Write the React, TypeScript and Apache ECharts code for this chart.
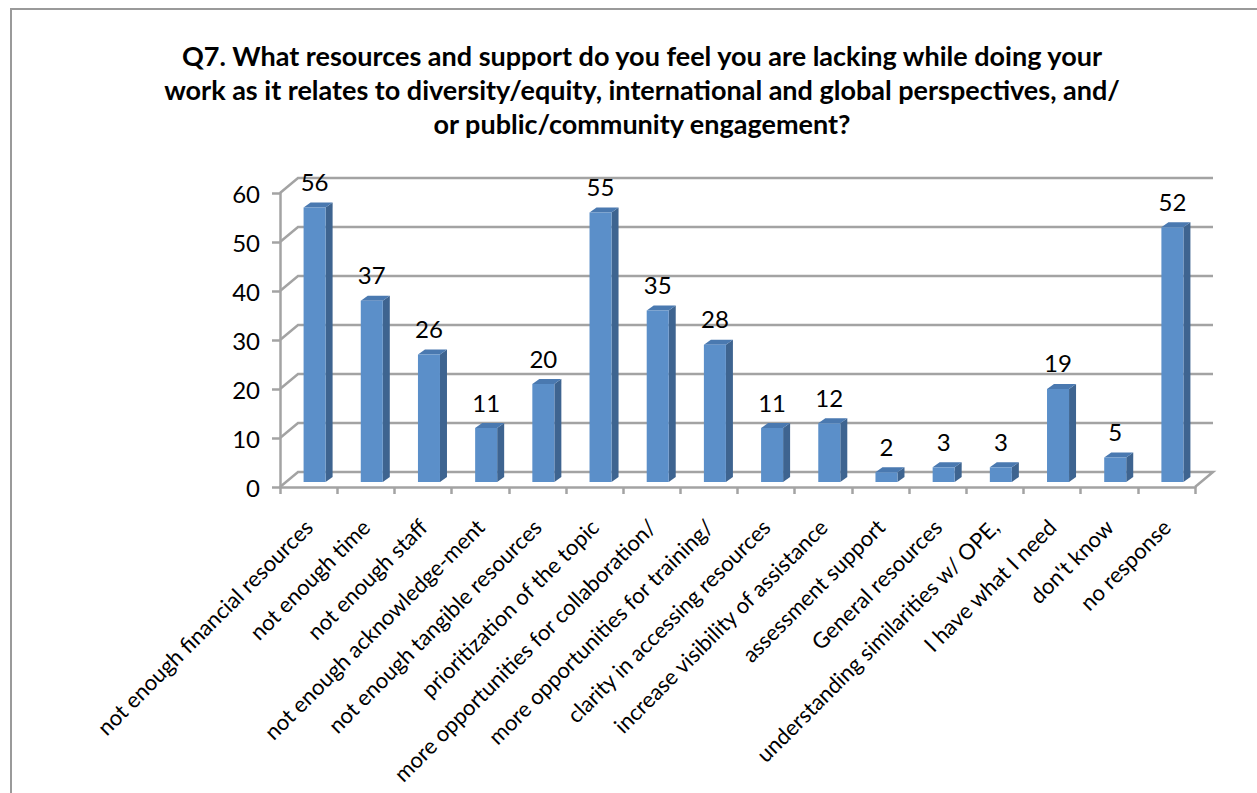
import React, { useEffect, useRef } from "react";
import * as echarts from "echarts";

const titleText =
  "Q7. What resources and support do you feel you are lacking while doing your\nwork as it relates to diversity/equity, international and global perspectives, and/\nor public/community engagement?";

const categories = [
  "not enough financial resources",
  "not enough time",
  "not enough staff",
  "not enough acknowledge-ment",
  "not enough tangible resources",
  "prioritization of the topic",
  "more opportunities for collaboration/",
  "more opportunities for training/",
  "clarity in accessing resources",
  "increase visibility of assistance",
  "assessment support",
  "General resources",
  "understanding similarities w/ OPE,",
  "I have what I need",
  "don't know",
  "no response",
];

const values = [56, 37, 26, 11, 20, 55, 35, 28, 11, 12, 2, 3, 3, 19, 5, 52];

const yTicks = [0, 10, 20, 30, 40, 50, 60];

const GRID_COLOR = "#a3a3a3";
const WALL_DX = 18;
const WALL_DY = -15;
const BAR_OFF_X = 6;
const BAR_OFF_Y = -5;
const BAR_DX = 7;
const BAR_DY = -5;

export default function App() {
  const ref = useRef<HTMLDivElement>(null);
  useEffect(() => {
    const chart = echarts.init(ref.current as HTMLDivElement, null, { renderer: "svg" });
    const option: any = {
      animation: false,
      backgroundColor: "#ffffff",
      textStyle: { fontFamily: "Lato" },
      graphic: [
        {
          type: "rect",
          shape: { x: 11, y: 9, width: 1400, height: 1000 },
          style: { fill: "none", stroke: "#9a9a9a", lineWidth: 2 },
          silent: true,
        },
        {
          type: "text",
          x: 642,
          y: 38,
          style: {
            text: titleText,
            align: "center",
            verticalAlign: "top",
            fontFamily: "Lato",
            fontWeight: "bold",
            fontSize: 27,
            lineHeight: 34,
            fill: "#000",
          },
        },
      ],
      grid: {
        left: 280,
        right: 62,
        top: 193,
        bottom: 306,
        containLabel: false,
        outerBoundsMode: "none",
      },
      xAxis: {
        type: "category",
        data: categories,
        axisLine: { show: true, lineStyle: { color: GRID_COLOR, width: 2.5 } },
        axisTick: { show: true, length: 7, interval: 0, lineStyle: { color: GRID_COLOR, width: 2.5 } },
        axisLabel: {
          interval: 0,
          rotate: 45,
          margin: 36,
          fontSize: 22,
          fontFamily: "Lato",
          color: "#000",
        },
        splitLine: { show: false },
      },
      yAxis: {
        type: "value",
        min: 0,
        max: 60,
        interval: 10,
        axisLine: { show: true, lineStyle: { color: GRID_COLOR, width: 2.5 } },
        axisTick: { show: true, length: 8, lineStyle: { color: GRID_COLOR, width: 2.5 } },
        axisLabel: { margin: 20, fontSize: 24, fontFamily: "Lato", color: "#000" },
        splitLine: { show: false },
      },
      series: [
        {
          type: "custom",
          clip: false,
          silent: true,
          z: 1,
          data: yTicks.map((t) => [0, t]),
          renderItem: (params: any, api: any) => {
            const cs = params.coordSys;
            const v = api.value(1);
            const y = api.coord([0, v])[1];
            const l = cs.x;
            const r = cs.x + cs.width;
            const pts: number[][] = [
              [l, y],
              [l + WALL_DX, y + WALL_DY],
              [r + WALL_DX, y + WALL_DY],
            ];
            if (v === 0) pts.push([r, y]);
            return {
              type: "polyline",
              shape: { points: pts },
              style: { stroke: GRID_COLOR, lineWidth: 2.5, fill: "none" },
            };
          },
        },
        {
          type: "custom",
          clip: false,
          z: 3,
          data: values.map((v, i) => [i, v]),
          renderItem: (params: any, api: any) => {
            const i = api.value(0);
            const v = api.value(1);
            const top = api.coord([i, v]);
            const base = api.coord([i, 0]);
            const bw = api.size([1, 0])[0] * 0.385;
            const x0 = top[0] + BAR_OFF_X - bw / 2;
            const x1 = x0 + bw;
            const yt = top[1] + BAR_OFF_Y;
            const yb = base[1] + BAR_OFF_Y;
            return {
              type: "group",
              children: [
                {
                  type: "polygon",
                  shape: {
                    points: [
                      [x1, yt],
                      [x1 + BAR_DX, yt + BAR_DY],
                      [x1 + BAR_DX, yb + BAR_DY],
                      [x1, yb],
                    ],
                  },
                  style: { fill: "#3e6490" },
                },
                {
                  type: "polygon",
                  shape: {
                    points: [
                      [x0, yt],
                      [x0 + BAR_DX, yt + BAR_DY],
                      [x1 + BAR_DX, yt + BAR_DY],
                      [x1, yt],
                    ],
                  },
                  style: { fill: "#4a79b0" },
                },
                {
                  type: "rect",
                  shape: { x: x0, y: yt, width: bw, height: yb - yt },
                  style: { fill: "#5b8fc9" },
                },
                {
                  type: "text",
                  x: x0 + bw / 2,
                  y: yt - 26,
                  style: {
                    text: String(v),
                    align: "center",
                    verticalAlign: "middle",
                    fontFamily: "Lato",
                    fontSize: 24,
                    fill: "#000",
                  },
                },
              ],
            };
          },
        },
      ],
    };
    chart.setOption(option);
    return () => {
      chart.dispose();
    };
  }, []);
  return (
    <div
      ref={ref}
      style={{ position: "fixed", left: 0, top: 0, width: 1257, height: 793 }}
    />
  );
}
